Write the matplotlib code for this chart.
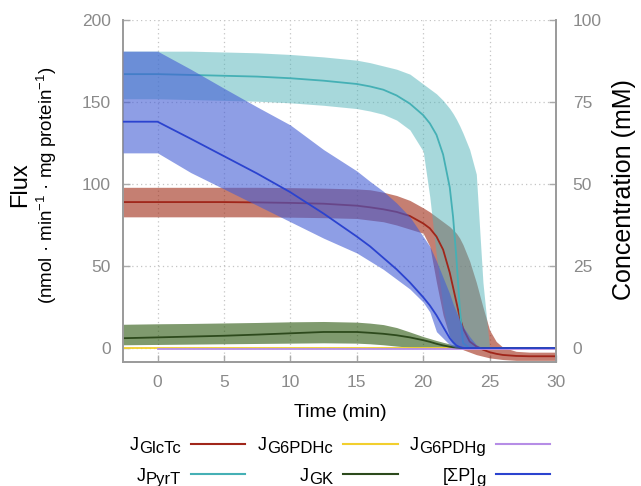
import matplotlib
matplotlib.use("Agg")
import matplotlib.pyplot as plt
from matplotlib.lines import Line2D

plt.rcParams['font.family'] = ['Liberation Sans', 'DejaVu Sans']
plt.rcParams['mathtext.fontset'] = 'custom'
plt.rcParams['mathtext.rm'] = 'Liberation Sans'
plt.rcParams['mathtext.it'] = 'Liberation Sans:italic'

# === данные ===
t = [-2.6, 0, 2.5, 5, 7.5, 10, 12.5, 15, 16, 17, 18, 19, 20, 20.5, 21, 21.5,
     22, 22.25, 22.5, 22.75, 23, 23.5, 24, 24.5, 25, 25.5, 26, 27, 28, 30]

# J_GlcTc (flux)
glctc = [89, 89, 89, 89, 88.8, 88.5, 88, 86.8, 85.8, 84.6, 83, 80.5, 76, 73, 68, 60,
         46, 37, 28, 19, 12, 4, 1, -1, -2.5, -3.5, -4.2, -4.8, -5, -5]
glctc_hi = [98, 98, 98, 98, 98, 97.8, 97.5, 97, 96.5, 95, 93, 90, 85.5, 83, 80, 77,
            74, 72, 70, 67, 63, 53, 40, 25, 11, 4, 0.5, -2, -2.5, -2.5]
glctc_lo = [80, 80, 80, 80, 80, 79.8, 79.5, 79, 78, 77, 75, 72.5, 70, 62, 40, 20,
            7, 4, 2, 0.5, -1, -2.5, -4, -5, -6, -6.5, -7, -7.5, -7.5, -7.5]

# J_G6PDHc, J_G6PDHg (flux)
t_g6pdhc = [-2.6, 30]
g6pdhc = [0.3, 0.3]
t_g6pdhg = [0, 30]
g6pdhg = [-0.5, -0.5]

# J_PyrT (flux)
pyrt = [167, 167, 166.5, 166, 165.5, 164.5, 163, 161, 159.5, 157.5, 154, 149, 142, 137, 130, 118,
        98, 80, 55, 25, 3, 0, 0, 0, 0, 0, 0, 0, 0, 0]
pyrt_hi = [181, 181, 181, 180.5, 180, 179, 177.5, 175.5, 174, 172, 170, 167, 161, 158, 155, 151,
           146, 143, 139.5, 135.5, 131, 121, 106, 40, 0, 0, 0, 0, 0, 0]
pyrt_lo = [152, 152, 151.5, 151, 150.5, 149.5, 148, 146, 144.5, 142.5, 139, 133, 120, 92, 56, 25,
           5, 2, 0.5, 0, 0, 0, 0, 0, 0, 0, 0, 0, 0, 0]

# J_GK (flux)
gk = [6, 6.5, 7, 7.5, 8.2, 9, 9.8, 9.8, 9.3, 8.7, 7.8, 6.5, 4.8, 3.8, 2.6, 1.6,
      0.8, 0.5, 0.3, 0.1, 0, 0, 0, 0, 0, 0, 0, 0, 0, 0]
gk_hi = [14.5, 14.8, 15, 15.3, 15.6, 16, 16.2, 15.8, 15.2, 14.3, 12.5, 9.8, 7, 5.8, 4.6, 3.5,
         2.5, 2, 1.6, 1.2, 1, 0.5, 0.2, 0, 0, 0, 0, 0, 0, 0]
gk_lo = [2, 2.2, 2.4, 2.6, 2.8, 3, 3.2, 3, 2.6, 2, 1.2, 0.5, 0, 0, 0, 0,
         0, 0, 0, 0, 0, 0, 0, 0, 0, 0, 0, 0, 0, 0]

# [ΣP]g (mM, правая ось)
sump = [69, 69, 63.8, 58.5, 53.2, 47.5, 41, 34, 31, 27.5, 24, 20, 15.5, 13, 10, 6.5,
        3, 1.8, 0.8, 0.3, 0, 0, 0, 0, 0, 0, 0, 0, 0, 0]
sump_hi = [90.5, 90.5, 85, 79.2, 73.5, 68, 60.5, 54, 50.8, 47.8, 44.2, 40, 34, 31, 26.5, 21.5,
           16.5, 13.5, 11, 8.5, 6.5, 3.5, 1, 0, 0, 0, 0, 0, 0, 0]
sump_lo = [59.5, 59.5, 53.5, 48.5, 43.5, 38.5, 33.5, 29, 26.5, 24, 21, 18, 14, 11, 5, 3,
           1, 0.5, 0, 0, 0, 0, 0, 0, 0, 0, 0, 0, 0, 0]

# цвета
c_glctc = '#a0261a'
c_g6pdhc = '#f2cf2e'
c_g6pdhg = '#b68de6'
c_pyrt = '#45b0b5'
c_gk = '#2d4a1c'
c_sump = '#2b43cf'

W, H = 641, 486
fig = plt.figure(figsize=(W / 100, H / 100), dpi=100)
ax1 = fig.add_axes([123 / W, 1 - 362 / H, (556 - 123) / W, (362 - 20) / H])
ax2 = ax1.twinx()

# === полосы и линии ===
ax1.fill_between(t, glctc_lo, glctc_hi, color='#9f2a14', alpha=0.6, lw=0)
ax1.plot(t, glctc, color=c_glctc, lw=1.3)
ax1.plot(t_g6pdhc, g6pdhc, color=c_g6pdhc, lw=1.3)
ax1.plot(t_g6pdhg, g6pdhg, color=c_g6pdhg, lw=1.3)
ax1.fill_between(t, pyrt_lo, pyrt_hi, color='#51b3b9', alpha=0.5, lw=0)
ax1.plot(t, pyrt, color=c_pyrt, lw=1.3)
ax1.fill_between(t, gk_lo, gk_hi, color='#2a570d', alpha=0.6, lw=0)
ax1.plot(t, gk, color=c_gk, lw=1.3)
ax2.fill_between(t, sump_lo, sump_hi, color='#435dd5', alpha=0.6, lw=0)
ax2.plot(t, sump, color=c_sump, lw=1.3)

# === оси ===
ax1.set_xlim(-2.6, 30)
ax1.set_ylim(-8.5, 200)
ax2.set_ylim(-4.25, 100)
ax1.set_xticks([0, 5, 10, 15, 20, 25, 30])
ax1.set_yticks([0, 50, 100, 150, 200])
ax2.set_yticks([0, 25, 50, 75, 100])

ax1.set_axisbelow(True)
ax1.grid(True, linestyle=(0, (1, 2.5)), color='#c4c4c4', linewidth=0.9)

for ax in (ax1, ax2):
    for s in ax.spines.values():
        s.set_color('#9a9a9a')
        s.set_linewidth(1.4)
    ax.spines['top'].set_visible(False)
ax1.spines['right'].set_visible(False)
ax2.spines['left'].set_visible(False)
ax2.spines['bottom'].set_visible(False)

ax1.tick_params(axis='y', direction='in', length=5, width=1, color='#aaaaaa',
                labelcolor='#8a8a8a', labelsize=12.5, pad=9)
ax1.tick_params(axis='x', direction='in', length=5, width=1, color='#aaaaaa',
                labelcolor='#8a8a8a', labelsize=12.5, pad=9)
ax2.tick_params(axis='y', direction='in', length=5, width=1, color='#aaaaaa',
                labelcolor='#8a8a8a', labelsize=12.5, pad=12)

# === подписи осей ===
fig.text(20 / W, 1 - 185 / H, 'Flux', rotation=90, ha='center', va='center', fontsize=17)
fig.text(47 / W, 1 - 185 / H, r'(nmol · min$^{-1}$ · mg protein$^{-1}$)', rotation=90,
         ha='center', va='center', fontsize=13.5)
fig.text(624 / W, 1 - 190 / H, 'Concentration (mM)', rotation=90, ha='center', va='center',
         fontsize=18)
fig.text(340 / W, 1 - 412 / H, 'Time (min)', ha='center', va='center', fontsize=14)

# === легенда (вручную, подписи слева от линий) ===
legend_main = ['J', 'J', 'J', 'J', 'J', '[ΣP]']
legend_sub = ['GlcTc', 'PyrT', 'G6PDHc', 'GK', 'G6PDHg', 'g']
legend_colors = [c_glctc, c_pyrt, c_g6pdhc, c_gk, c_g6pdhg, c_sump]
col_text_right = [181, 333, 486]
col_line = [(191, 245), (343, 398), (496, 550)]
row_line_y = [443.5, 474]
row_base_y = [453, 483.5]

for i in range(6):
    col, row = i // 2, i % 2
    s = fig.text(col_text_right[col] / W, 1 - row_base_y[row] / H, legend_sub[i],
                 ha='right', va='baseline', fontsize=12)
    ax1.annotate(legend_main[i], xy=(0, 0), xycoords=s, xytext=(-0.3, 4.2),
                 textcoords='offset points', ha='right', va='baseline', fontsize=13,
                 annotation_clip=False)
    x0, x1 = col_line[col]
    y = 1 - row_line_y[row] / H
    fig.add_artist(Line2D([x0 / W, x1 / W], [y, y], transform=fig.transFigure,
                          color=legend_colors[i], lw=1.5))

fig.savefig('out.png', dpi=100)
